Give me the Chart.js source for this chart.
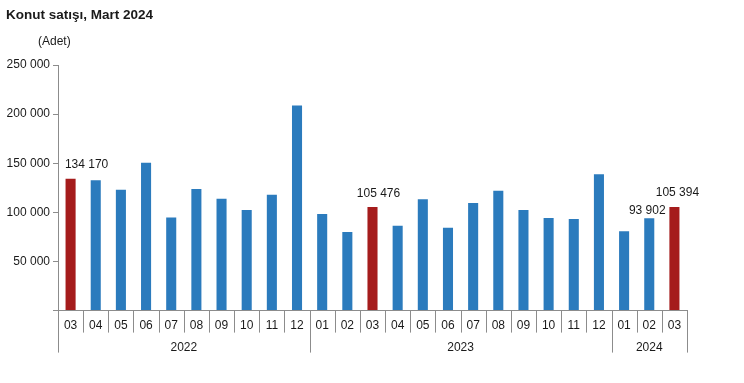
<!DOCTYPE html>
<html lang="tr">
    <head>
        <meta charset="UTF-8">
        <title>Konut satışı, Mart 2024</title>
        <script src="https://cdn.jsdelivr.net/npm/chart.js"></script>
        <style>
            body { margin: 0; background: #fff; }
            #wrap { width: 744px; height: 383px; position: relative; }
        </style>
    </head>
    <body>
        <div id="wrap"><canvas id="salesChart"></canvas></div>

        <script>
            // aylar (ay kodu) ve yıllar
            const months = ['03','04','05','06','07','08','09','10','11','12',
                            '01','02','03','04','05','06','07','08','09','10','11','12',
                            '01','02','03'];
            const years = [
                { label: '2022', from: 0, to: 9 },
                { label: '2023', from: 10, to: 21 },
                { label: '2024', from: 22, to: 24 }
            ];
            const sales = [134170, 132712, 122916, 150509, 94691, 123783, 113917, 102409, 117833, 208698,
                           98277, 80005, 105476, 86252, 113276, 84335, 109563, 121918, 102370, 94181, 93229, 138886,
                           80838, 93902, 105394];
            const highlighted = [0, 12, 24];
            // etiket gösterilen çubuklar: [index, dx, dy]
            const labelled = [[0, 16, 14], [12, 6, 13], [23, -2, 8], [24, 3, 14]];

            const blue = '#2b7bbd';
            const red = '#a51c1c';
            const axisColor = '#8c8c8c';
            const fontFamily = '"Liberation Sans", Arial, sans-serif';

            function fmt(v) {
                return String(v).replace(/\B(?=(\d{3})+(?!\d))/g, ' ');
            }

            const extras = {
                id: 'extras',
                afterDraw(chart) {
                    const ctx = chart.ctx;
                    const x = chart.scales.x;
                    const area = chart.chartArea;
                    const meta = chart.getDatasetMeta(0);
                    ctx.save();

                    // başlık
                    ctx.fillStyle = '#1a1a1a';
                    ctx.textBaseline = 'middle';
                    ctx.textAlign = 'left';
                    ctx.font = 'bold 13.5px ' + fontFamily;
                    ctx.fillText('Konut satışı, Mart 2024', 6, 15);
                    ctx.font = '12px ' + fontFamily;
                    ctx.fillText('(Adet)', 38, 42);

                    // değer etiketleri
                    ctx.textAlign = 'center';
                    ctx.textBaseline = 'bottom';
                    labelled.forEach(([i, dx, dy]) => {
                        const bar = meta.data[i];
                        ctx.fillText(fmt(sales[i]), bar.x + dx, bar.y - dy + 6);
                    });

                    // ay ayraçları
                    const half = (x.getPixelForValue(1) - x.getPixelForValue(0)) / 2;
                    ctx.strokeStyle = axisColor;
                    ctx.lineWidth = 1;
                    for (let i = 0; i <= months.length; i++) {
                        const px = Math.round(x.getPixelForValue(i) - half) + 0.5;
                        const isYear = years.some(y => y.from === i) || i === months.length;
                        ctx.beginPath();
                        ctx.moveTo(px, area.bottom);
                        ctx.lineTo(px, area.bottom + (isYear ? 42 : 22));
                        ctx.stroke();
                    }

                    // yıl etiketleri
                    ctx.textBaseline = 'middle';
                    ctx.fillStyle = '#1a1a1a';
                    years.forEach(y => {
                        const cx = (x.getPixelForValue(y.from) + x.getPixelForValue(y.to)) / 2;
                        ctx.fillText(y.label, cx, area.bottom + 37);
                    });
                    ctx.restore();
                }
            };

            new Chart(document.getElementById('salesChart'), {
                type: 'bar',
                data: {
                    labels: months,
                    datasets: [{
                        data: sales,
                        backgroundColor: sales.map((_, i) => highlighted.includes(i) ? red : blue),
                        barPercentage: 0.4,
                        categoryPercentage: 1
                    }]
                },
                options: {
                    responsive: true,
                    maintainAspectRatio: false,
                    animation: false,
                    layout: { padding: { left: 6, right: 57, top: 65, bottom: 42 } },
                    plugins: {
                        legend: { display: false },
                        tooltip: { enabled: false }
                    },
                    scales: {
                        x: {
                            grid: { display: false, drawTicks: false },
                            border: { display: true, color: axisColor },
                            ticks: {
                                color: '#1a1a1a',
                                font: { family: fontFamily, size: 12 },
                                padding: 8,
                                maxRotation: 0,
                                autoSkip: false
                            }
                        },
                        y: {
                            min: 0,
                            max: 250000,
                            afterFit(scale) { scale.width = 52; },
                            grid: { drawOnChartArea: false, drawTicks: true, tickLength: 5, color: axisColor },
                            border: { display: true, color: axisColor },
                            ticks: {
                                stepSize: 50000,
                                color: '#1a1a1a',
                                font: { family: fontFamily, size: 12 },
                                padding: 3,
                                callback: v => v === 0 ? '' : fmt(v)
                            }
                        }
                    }
                },
                plugins: [extras]
            });
        </script>
    </body>
</html>
